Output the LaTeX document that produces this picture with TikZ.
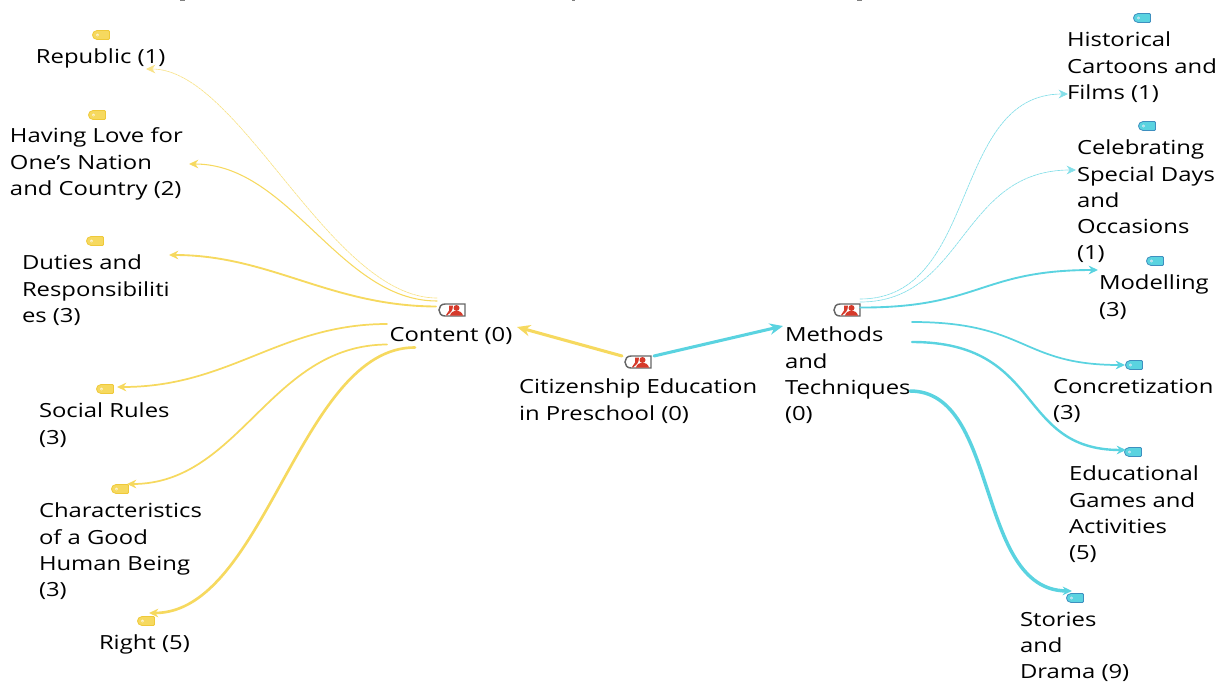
\documentclass[tikz,border=0pt]{standalone}
\usepackage{fontspec}
\setmainfont[FakeStretch=1.225]{Open Sans}
\usetikzlibrary{arrows.meta}
\definecolor{ylw}{HTML}{F6D95F}
\definecolor{ylwd}{HTML}{EFC93A}
\definecolor{cyn}{HTML}{5AD3E0}
\definecolor{cynd}{HTML}{3E8FBF}
\definecolor{redp}{HTML}{D63A2B}
\tikzset{
 lab/.style={anchor=north west,inner sep=0pt,outer sep=0pt,align=left,font=\fontsize{14.6pt}{19.7pt}\selectfont,text=black},
 conn/.style={-{Stealth[length=7pt,width=6.5pt]},line cap=round},
 bigtip/.style={-{Stealth[length=10pt,width=8.5pt]}},
 yc/.style={conn,draw=ylw},
 cc/.style={conn,draw=cyn},
 faint/.style={line width=0.5pt,dash pattern=on 2pt off 0.6pt},
}
% tag icon: #1 name, #2 centre, #3 fill, #4 edge
\newcommand{\tagicon}[4]{%
 \coordinate (#1) at (#2);
 \filldraw[fill=#3,draw=#4,line width=0.6pt,shift={(#1)}]
   (8.5,-3.5) .. controls (8.5,-4.2) and (8.2,-4.5) .. (7.5,-4.5) -- (-4,-4.5) .. controls (-7,-4.5) and (-8.5,-2) .. (-8.5,0)
   .. controls (-8.5,2) and (-7,4.5) .. (-4,4.5) -- (7.5,4.5) .. controls (8.2,4.5) and (8.5,4.2) .. (8.5,3.5) -- cycle;
 \fill[white,shift={(#1)}] (-3.5,0) circle (1.4);
 \fill[#4,shift={(#1)}] (-3.5,0) circle (0.5);
}
% person icon: #1 name, #2 centre
\newcommand{\personicon}[2]{%
 \coordinate (#1) at (#2);
 \filldraw[draw=black!60,fill=white,line width=1.1pt,shift={(#1)}]
   (13,-6) -- (-7,-6) .. controls (-11,-6) and (-13,-3) .. (-13,0)
   .. controls (-13,3) and (-11,6) .. (-7,6) -- (13,6) -- cycle;
 \fill[redp,shift={(#1)}] (4.5,-2) circle (3);
 \fill[redp,shift={(#1)}] (-2,5.5) .. controls (-1,2) and (1,1) .. (4.5,1) .. controls (8,1) and (10,2) .. (11,5.5) -- cycle;
 \fill[redp,shift={(#1)}] (-3,-4.5) -- (1,-4.5) -- (0.5,-1) -- (-1,2) -- (-5,5.5) -- (-6,5) -- (-3,0.5) -- cycle;
}
\begin{document}
\begin{tikzpicture}[x=0.75pt,y=-0.75pt]
\useasboundingbox (0,0) rectangle (1218,682);
% clipped marks on the top edge
\fill[black!50] (180,0) rectangle (185,1);
\fill[black!50] (572,0) rectangle (575,1);
\fill[black!50] (857,0) rectangle (862,1);
% icons
\personicon{pC}{452,310}
\personicon{pR}{638,362}
\personicon{pM}{847,310}
\tagicon{t1}{101,35}{ylw}{ylwd}
\tagicon{t2}{97,115}{ylw}{ylwd}
\tagicon{t3}{95,241}{ylw}{ylwd}
\tagicon{t4}{105,389}{ylw}{ylwd}
\tagicon{t5}{120,489}{ylw}{ylwd}
\tagicon{t6}{146,621}{ylw}{ylwd}
\tagicon{u1}{1142,18}{cyn}{cynd}
\tagicon{u2}{1147,126}{cyn}{cynd}
\tagicon{u3}{1155,261}{cyn}{cynd}
\tagicon{u4}{1134,365}{cyn}{cynd}
\tagicon{u5}{1133,452}{cyn}{cynd}
\tagicon{u6}{1075,598}{cyn}{cynd}
% labels
\node[lab] (root) at (519,379) {Citizenship Education\\in Preschool (0)};
\node[lab] (content) at (389.5,327) {Content (0)};
\node[lab] (methods) at (785,327) {Methods\\and\\Techniques\\(0)};
\node[lab] (a1) at (36,49) {Republic (1)};
\node[lab] (a2) at (10,128) {Having Love for\\One’s Nation\\and Country (2)};
\node[lab] (a3) at (22,255) {Duties and\\Responsibiliti\\es (3)};
\node[lab] (a4) at (39,403) {Social Rules\\(3)};
\node[lab] (a5) at (39,503) {Characteristics\\of a Good\\Human Being\\(3)};
\node[lab] (a6) at (99,635) {Right (5)};
\node[lab] (b1) at (1067,32) {Historical\\Cartoons and\\Films (1)};
\node[lab] (b2) at (1077,140) {Celebrating\\Special Days\\and\\Occasions\\(1)};
\node[lab] (b3) at (1099,275) {Modelling\\(3)};
\node[lab] (b4) at (1053,379) {Concretization\\(3)};
\node[lab] (b5) at (1069,466) {Educational\\Games and\\Activities\\(5)};
\node[lab] (b6) at (1020,612) {Stories\\and\\Drama (9)};
% connector ends
\coordinate (cA) at (437,298);
\coordinate (cB) at (437,301);
\coordinate (cC) at (436,306.5);
\coordinate (cD) at (387,324);
\coordinate (cE) at (387,344.5);
\coordinate (cF) at (415,347.5);
\coordinate (mA) at (860,299);
\coordinate (mB) at (860,302);
\coordinate (mC) at (860,307.5);
\coordinate (mD) at (912,322);
\coordinate (mE) at (912,342);
\coordinate (mF) at (910,391);
\coordinate (eA) at (146,69);
\coordinate (eB) at (189,164);
\coordinate (eC) at (169,255);
\coordinate (eD) at (117,387);
\coordinate (eE) at (127,484);
\coordinate (eF) at (149,613);
\coordinate (fA) at (1068,94);
\coordinate (fB) at (1076,170);
\coordinate (fC) at (1098,270);
\coordinate (fD) at (1125,365);
\coordinate (fE) at (1126,450);
\coordinate (fF) at (1072,591);
\coordinate (rL) at (622,356);
\coordinate (rR) at (654,356);
\coordinate (cIn) at (517,327);
\coordinate (mIn) at (783,326);
% connectors
\draw[yc,line width=2.3pt,bigtip] (rL) -- (cIn);
\draw[cc,line width=2.3pt,bigtip] (rR) -- (mIn);
\draw[yc,faint,draw=ylw!75] (cA) .. controls (330,298) and (240,69) .. (eA);
\draw[yc,line width=0.8pt] (cB) .. controls (340,301) and (290,164) .. (eB);
\draw[yc,line width=1.4pt] (cC) .. controls (330,306) and (270,255) .. (eC);
\draw[yc,line width=1.3pt] (cD) .. controls (280,324) and (230,387) .. (eD);
\draw[yc,line width=1.3pt] (cE) .. controls (270,345) and (240,484) .. (eE);
\draw[yc,line width=2pt] (cF) .. controls (300,347) and (265,613) .. (eF);
\draw[cc,faint,draw=cyn!75] (mA) .. controls (980,299) and (950,94) .. (fA);
\draw[cc,faint,draw=cyn!75] (mB) .. controls (965,302) and (960,170) .. (fB);
\draw[cc,line width=1.4pt] (mC) .. controls (980,308) and (980,270) .. (fC);
\draw[cc,line width=1.3pt] (mD) .. controls (1028,322) and (1020,365) .. (fD);
\draw[cc,line width=1.8pt] (mE) .. controls (1045,342) and (1015,450) .. (fE);
\draw[cc,line width=2.6pt] (mF) .. controls (1000,391) and (975,590) .. (fF);
\end{tikzpicture}
\end{document}
